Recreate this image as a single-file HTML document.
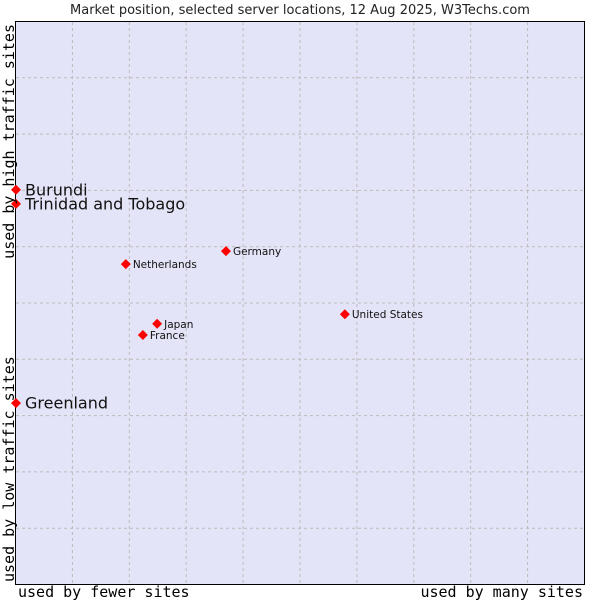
<!DOCTYPE html>
<html><head><meta charset="utf-8"><style>
body{margin:0;background:#fff;}
svg text{font-family:"DejaVu Sans","Liberation Sans",sans-serif;}
</style></head><body>
<svg id="chart" width="600" height="600" viewBox="0 0 600 600" xmlns="http://www.w3.org/2000/svg">
<text x="300" y="14" text-anchor="middle" font-size="13" fill="#222">Market position, selected server locations, 12 Aug 2025, W3Techs.com</text>
<rect x="15.5" y="21.5" width="569" height="563" fill="#e4e4f8" stroke="#000" stroke-width="1"/>
<g id="grid"></g>
<g id="points"></g>
<text x="18" y="597" font-size="15" fill="#000" style="font-family:'DejaVu Sans Mono','Liberation Mono',monospace">used by fewer sites</text>
<text x="583" y="597" text-anchor="end" font-size="15" fill="#000" style="font-family:'DejaVu Sans Mono','Liberation Mono',monospace">used by many sites</text>
<text transform="translate(14,24) rotate(-90)" text-anchor="end" font-size="15" fill="#000" style="font-family:'DejaVu Sans Mono','Liberation Mono',monospace">used by high traffic sites</text>
<text transform="translate(14,582) rotate(-90)" font-size="15" fill="#000" style="font-family:'DejaVu Sans Mono','Liberation Mono',monospace">used by low traffic sites</text>
</svg>
<script>
const names=["Burundi","Trinidad and Tobago","Greenland","Netherlands","Germany","United States","Japan","France"];
const xVals=[0,0,0,19.3,36.9,57.8,24.8,22.3];
const yVals=[70.2,67.7,32.3,57.0,59.3,48.1,46.4,44.4];
const big=[true,true,true,false,false,false,false,false];
const L=16,T=22,W=569,H=563;
const sx=v=>L+v/100*W, sy=v=>T+H-v/100*H;
const NS="http://www.w3.org/2000/svg";
const g=document.getElementById('grid');
for(let i=1;i<10;i++){
  const lx=document.createElementNS(NS,'line');
  
  
  lx.setAttribute('x1',sx(i*10)-0.5);lx.setAttribute('x2',sx(i*10)-0.5);lx.setAttribute('y1',T);lx.setAttribute('y2',T+H-1);
  lx.setAttribute('stroke','#bbb');lx.setAttribute('stroke-dasharray','3,3');g.appendChild(lx);
  const ly=document.createElementNS(NS,'line');
  
  
  ly.setAttribute('y1',sy(i*10)-0.5);ly.setAttribute('y2',sy(i*10)-0.5);ly.setAttribute('x1',L);ly.setAttribute('x2',L+W-1);
  ly.setAttribute('stroke','#bbb');ly.setAttribute('stroke-dasharray','3,3');g.appendChild(ly);
}
const p=document.getElementById('points');
names.forEach((n,i)=>{
  const x=sx(xVals[i]),y=sy(yVals[i]);
  const d=document.createElementNS(NS,'polygon');
  
  
  d.setAttribute('points',`${x},${y-5} ${x+5},${y} ${x},${y+5} ${x-5},${y}`);
  d.setAttribute('fill','#f00');p.appendChild(d);
  const t=document.createElementNS(NS,'text');
  
  
  t.setAttribute('x',x+(big[i]?9:7));t.setAttribute('y',y+(big[i]?5.5:4));
  t.setAttribute('font-size',big[i]?16:10.5);t.setAttribute('fill','#111');
  t.textContent=n;p.appendChild(t);
});
</script>
</body></html>
